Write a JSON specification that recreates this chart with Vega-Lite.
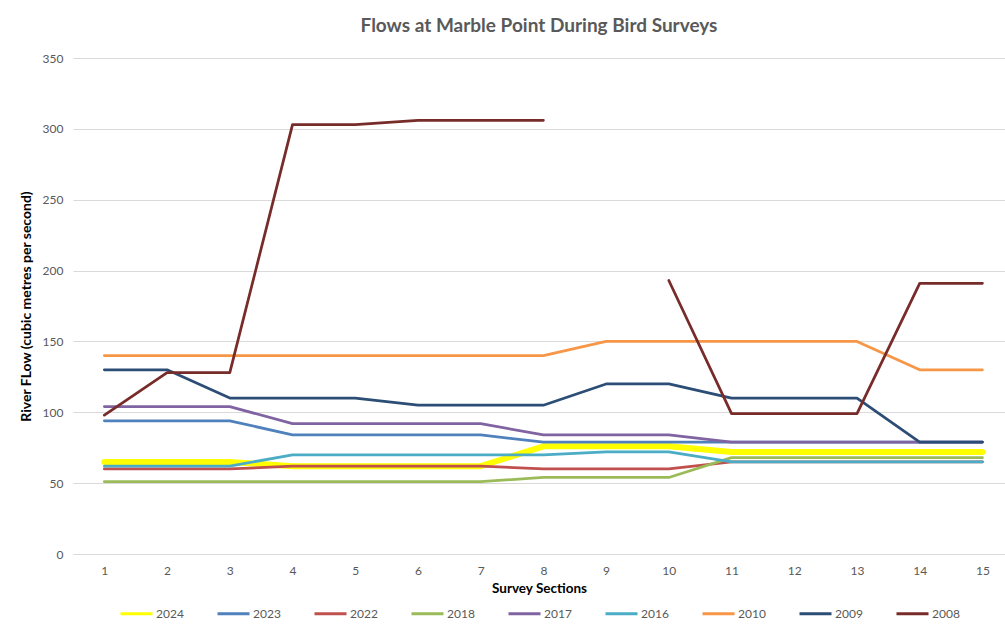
{
  "$schema": "https://vega.github.io/schema/vega-lite/v6.json",
  "width": 932,
  "height": 496,
  "autosize": {"type": "none"},
  "padding": {"left": 73, "top": 58, "right": 0, "bottom": 72},
  "background": "white",
  "config": {"font": "Lato", "view": {"stroke": null}},
  "title": {
    "text": "Flows at Marble Point During Bird Surveys",
    "fontSize": 19,
    "fontWeight": "bold",
    "color": "#595959",
    "offset": 16,
    "anchor": "middle"
  },
  "data": {
    "values": [
      {"section": 1, "year": "2024", "flow": 65}, {"section": 2, "year": "2024", "flow": 65}, {"section": 3, "year": "2024", "flow": 65},
      {"section": 4, "year": "2024", "flow": 62}, {"section": 5, "year": "2024", "flow": 62}, {"section": 6, "year": "2024", "flow": 62},
      {"section": 7, "year": "2024", "flow": 62}, {"section": 8, "year": "2024", "flow": 76}, {"section": 9, "year": "2024", "flow": 76},
      {"section": 10, "year": "2024", "flow": 76}, {"section": 11, "year": "2024", "flow": 72}, {"section": 12, "year": "2024", "flow": 72},
      {"section": 13, "year": "2024", "flow": 72}, {"section": 14, "year": "2024", "flow": 72}, {"section": 15, "year": "2024", "flow": 72},

      {"section": 1, "year": "2023", "flow": 94}, {"section": 2, "year": "2023", "flow": 94}, {"section": 3, "year": "2023", "flow": 94},
      {"section": 4, "year": "2023", "flow": 84}, {"section": 5, "year": "2023", "flow": 84}, {"section": 6, "year": "2023", "flow": 84},
      {"section": 7, "year": "2023", "flow": 84}, {"section": 8, "year": "2023", "flow": 79}, {"section": 9, "year": "2023", "flow": 79},
      {"section": 10, "year": "2023", "flow": 79}, {"section": 11, "year": "2023", "flow": 79}, {"section": 12, "year": "2023", "flow": 79},
      {"section": 13, "year": "2023", "flow": 79}, {"section": 14, "year": "2023", "flow": 79}, {"section": 15, "year": "2023", "flow": 79},

      {"section": 1, "year": "2022", "flow": 60}, {"section": 2, "year": "2022", "flow": 60}, {"section": 3, "year": "2022", "flow": 60},
      {"section": 4, "year": "2022", "flow": 62}, {"section": 5, "year": "2022", "flow": 62}, {"section": 6, "year": "2022", "flow": 62},
      {"section": 7, "year": "2022", "flow": 62}, {"section": 8, "year": "2022", "flow": 60}, {"section": 9, "year": "2022", "flow": 60},
      {"section": 10, "year": "2022", "flow": 60}, {"section": 11, "year": "2022", "flow": 65}, {"section": 12, "year": "2022", "flow": 65},
      {"section": 13, "year": "2022", "flow": 65}, {"section": 14, "year": "2022", "flow": 65}, {"section": 15, "year": "2022", "flow": 65},

      {"section": 1, "year": "2018", "flow": 51}, {"section": 2, "year": "2018", "flow": 51}, {"section": 3, "year": "2018", "flow": 51},
      {"section": 4, "year": "2018", "flow": 51}, {"section": 5, "year": "2018", "flow": 51}, {"section": 6, "year": "2018", "flow": 51},
      {"section": 7, "year": "2018", "flow": 51}, {"section": 8, "year": "2018", "flow": 54}, {"section": 9, "year": "2018", "flow": 54},
      {"section": 10, "year": "2018", "flow": 54}, {"section": 11, "year": "2018", "flow": 68}, {"section": 12, "year": "2018", "flow": 68},
      {"section": 13, "year": "2018", "flow": 68}, {"section": 14, "year": "2018", "flow": 68}, {"section": 15, "year": "2018", "flow": 68},

      {"section": 1, "year": "2017", "flow": 104}, {"section": 2, "year": "2017", "flow": 104}, {"section": 3, "year": "2017", "flow": 104},
      {"section": 4, "year": "2017", "flow": 92}, {"section": 5, "year": "2017", "flow": 92}, {"section": 6, "year": "2017", "flow": 92},
      {"section": 7, "year": "2017", "flow": 92}, {"section": 8, "year": "2017", "flow": 84}, {"section": 9, "year": "2017", "flow": 84},
      {"section": 10, "year": "2017", "flow": 84}, {"section": 11, "year": "2017", "flow": 79}, {"section": 12, "year": "2017", "flow": 79},
      {"section": 13, "year": "2017", "flow": 79}, {"section": 14, "year": "2017", "flow": 79}, {"section": 15, "year": "2017", "flow": 79},

      {"section": 1, "year": "2016", "flow": 62}, {"section": 2, "year": "2016", "flow": 62}, {"section": 3, "year": "2016", "flow": 62},
      {"section": 4, "year": "2016", "flow": 70}, {"section": 5, "year": "2016", "flow": 70}, {"section": 6, "year": "2016", "flow": 70},
      {"section": 7, "year": "2016", "flow": 70}, {"section": 8, "year": "2016", "flow": 70}, {"section": 9, "year": "2016", "flow": 72},
      {"section": 10, "year": "2016", "flow": 72}, {"section": 11, "year": "2016", "flow": 65}, {"section": 12, "year": "2016", "flow": 65},
      {"section": 13, "year": "2016", "flow": 65}, {"section": 14, "year": "2016", "flow": 65}, {"section": 15, "year": "2016", "flow": 65},

      {"section": 1, "year": "2010", "flow": 140}, {"section": 2, "year": "2010", "flow": 140}, {"section": 3, "year": "2010", "flow": 140},
      {"section": 4, "year": "2010", "flow": 140}, {"section": 5, "year": "2010", "flow": 140}, {"section": 6, "year": "2010", "flow": 140},
      {"section": 7, "year": "2010", "flow": 140}, {"section": 8, "year": "2010", "flow": 140}, {"section": 9, "year": "2010", "flow": 150},
      {"section": 10, "year": "2010", "flow": 150}, {"section": 11, "year": "2010", "flow": 150}, {"section": 12, "year": "2010", "flow": 150},
      {"section": 13, "year": "2010", "flow": 150}, {"section": 14, "year": "2010", "flow": 130}, {"section": 15, "year": "2010", "flow": 130},

      {"section": 1, "year": "2009", "flow": 130}, {"section": 2, "year": "2009", "flow": 130}, {"section": 3, "year": "2009", "flow": 110},
      {"section": 4, "year": "2009", "flow": 110}, {"section": 5, "year": "2009", "flow": 110}, {"section": 6, "year": "2009", "flow": 105},
      {"section": 7, "year": "2009", "flow": 105}, {"section": 8, "year": "2009", "flow": 105}, {"section": 9, "year": "2009", "flow": 120},
      {"section": 10, "year": "2009", "flow": 120}, {"section": 11, "year": "2009", "flow": 110}, {"section": 12, "year": "2009", "flow": 110},
      {"section": 13, "year": "2009", "flow": 110}, {"section": 14, "year": "2009", "flow": 79}, {"section": 15, "year": "2009", "flow": 79},

      {"section": 1, "year": "2008", "flow": 98}, {"section": 2, "year": "2008", "flow": 128}, {"section": 3, "year": "2008", "flow": 128},
      {"section": 4, "year": "2008", "flow": 303}, {"section": 5, "year": "2008", "flow": 303}, {"section": 6, "year": "2008", "flow": 306},
      {"section": 7, "year": "2008", "flow": 306}, {"section": 8, "year": "2008", "flow": 306}, {"section": 9, "year": "2008", "flow": null},
      {"section": 10, "year": "2008", "flow": 193}, {"section": 11, "year": "2008", "flow": 99}, {"section": 12, "year": "2008", "flow": 99},
      {"section": 13, "year": "2008", "flow": 99}, {"section": 14, "year": "2008", "flow": 191}, {"section": 15, "year": "2008", "flow": 191}
    ]
  },
  "mark": {
    "type": "line",
    "strokeCap": "round",
    "strokeJoin": "round",
    "invalid": "break-paths-show-domains"
  },
  "encoding": {
    "x": {
      "field": "section",
      "type": "quantitative",
      "scale": {"domain": [0.5, 15.36], "nice": false, "zero": false},
      "axis": {
        "values": [1, 2, 3, 4, 5, 6, 7, 8, 9, 10, 11, 12, 13, 14, 15],
        "title": "Survey Sections",
        "titleFontSize": 13.5,
        "titleFontWeight": "bold",
        "titleColor": "#000000",
        "titlePadding": 5,
        "grid": false,
        "ticks": false,
        "tickSize": 0,
        "domainColor": "#d9d9d9",
        "domainWidth": 1,
        "labelPadding": 11,
        "labelFontSize": 12,
        "labelColor": "#595959"
      }
    },
    "y": {
      "field": "flow",
      "type": "quantitative",
      "scale": {"domain": [0, 350], "nice": false},
      "axis": {
        "values": [0, 50, 100, 150, 200, 250, 300, 350],
        "title": "River FLow (cubic metres per second)",
        "titleFontSize": 14,
        "titleFontWeight": "bold",
        "titleColor": "#000000",
        "titlePadding": 9,
        "domain": false,
        "ticks": false,
        "tickSize": 0,
        "gridColor": "#d9d9d9",
        "gridWidth": 1,
        "labelPadding": 10,
        "labelFontSize": 12,
        "labelColor": "#595959"
      }
    },
    "color": {
      "field": "year",
      "type": "nominal",
      "scale": {
        "domain": ["2024", "2023", "2022", "2018", "2017", "2016", "2010", "2009", "2008"],
        "range": ["#ffff00", "#4f81bd", "#c0504d", "#9bbb59", "#8064a2", "#4bacc6", "#f79646", "#2c4d75", "#772c2a"]
      },
      "legend": {
        "title": null,
        "orient": "none",
        "legendX": 46,
        "legendY": 538,
        "direction": "horizontal",
        "columns": 9,
        "columnPadding": 27,
        "symbolType": "stroke",
        "symbolSize": 1024,
        "symbolStrokeWidth": 3,
        "labelOffset": 2,
        "labelFontSize": 12,
        "labelColor": "#595959"
      }
    },
    "strokeWidth": {
      "condition": {"test": "datum.year === '2024'", "value": 6},
      "value": 2.75
    }
  }
}
